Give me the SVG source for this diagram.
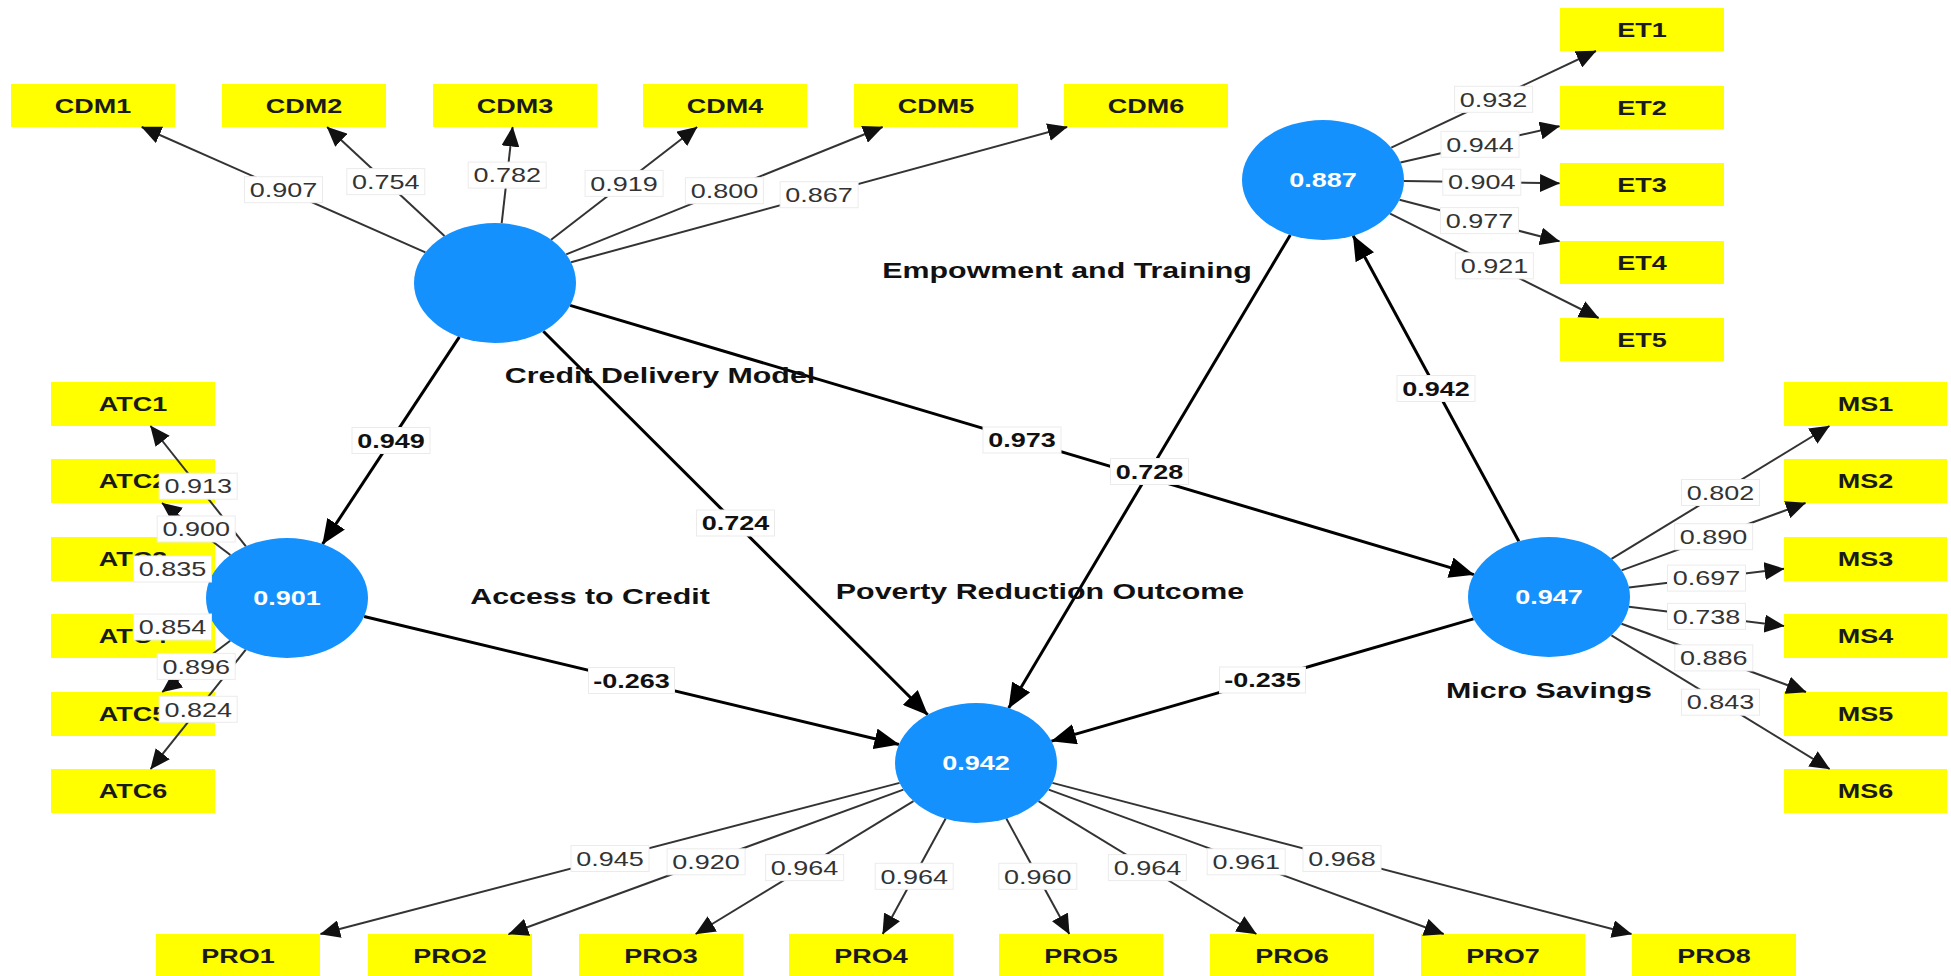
<svg xmlns="http://www.w3.org/2000/svg" width="1951" height="976" viewBox="0 0 1951 976">
<style>
.box{fill:#ffff00}
.lv{fill:#1591fe}
.ind{font-family:"Liberation Sans",Arial,sans-serif;font-weight:bold;font-size:20px;fill:#1a1a1a;text-anchor:middle}
.ld{font-family:"Liberation Sans",Arial,sans-serif;font-size:20px;fill:#333;text-anchor:middle}
.pc{font-family:"Liberation Sans",Arial,sans-serif;font-weight:bold;font-size:20px;fill:#111;text-anchor:middle}
.nm{font-family:"Liberation Sans",Arial,sans-serif;font-weight:bold;font-size:22.5px;fill:#111;text-anchor:middle}
.cv{font-family:"Liberation Sans",Arial,sans-serif;font-weight:bold;font-size:20px;fill:#fff;text-anchor:middle}
.lb{fill:#fff;stroke:#ebebeb;stroke-width:1}
.lo{stroke:#333;stroke-width:2;fill:none;marker-end:url(#a)}
.lh{stroke:#333;stroke-width:2;fill:none}
.st{stroke:#000;stroke-width:3;fill:none;marker-end:url(#b)}
</style>
<defs>
<marker id="a" markerUnits="userSpaceOnUse" viewBox="0 0 20 18" markerWidth="20" markerHeight="18" refX="19.5" refY="9" orient="auto"><path d="M0,0 L20,9 L0,18 z" fill="#111"/></marker>
<marker id="b" markerUnits="userSpaceOnUse" viewBox="0 0 25 21" markerWidth="25" markerHeight="21" refX="24.5" refY="10.5" orient="auto"><path d="M0,0 L25,10.5 L0,21 z" fill="#000"/></marker>
</defs>
<rect width="1951" height="976" fill="#fff"/>

<g id="indicators">
<g id="CDM1"><rect class="box" x="11" y="84" width="164" height="43"/><text class="ind" transform="translate(93,112.7) scale(1.35,1)">CDM1</text></g>
<g id="CDM2"><rect class="box" x="222" y="84" width="164" height="43"/><text class="ind" transform="translate(304,112.7) scale(1.35,1)">CDM2</text></g>
<g id="CDM3"><rect class="box" x="433" y="84" width="164" height="43"/><text class="ind" transform="translate(515,112.7) scale(1.35,1)">CDM3</text></g>
<g id="CDM4"><rect class="box" x="643" y="84" width="164" height="43"/><text class="ind" transform="translate(725,112.7) scale(1.35,1)">CDM4</text></g>
<g id="CDM5"><rect class="box" x="854" y="84" width="164" height="43"/><text class="ind" transform="translate(936,112.7) scale(1.35,1)">CDM5</text></g>
<g id="CDM6"><rect class="box" x="1064" y="84" width="164" height="43"/><text class="ind" transform="translate(1146,112.7) scale(1.35,1)">CDM6</text></g>

<g id="ET1"><rect class="box" x="1560" y="8" width="164" height="43"/><text class="ind" transform="translate(1642,36.7) scale(1.35,1)">ET1</text></g>
<g id="ET2"><rect class="box" x="1560" y="86" width="164" height="43"/><text class="ind" transform="translate(1642,114.7) scale(1.35,1)">ET2</text></g>
<g id="ET3"><rect class="box" x="1560" y="163" width="164" height="43"/><text class="ind" transform="translate(1642,191.7) scale(1.35,1)">ET3</text></g>
<g id="ET4"><rect class="box" x="1560" y="241" width="164" height="43"/><text class="ind" transform="translate(1642,269.7) scale(1.35,1)">ET4</text></g>
<g id="ET5"><rect class="box" x="1560" y="318" width="164" height="43"/><text class="ind" transform="translate(1642,346.7) scale(1.35,1)">ET5</text></g>

<g id="ATC1"><rect class="box" x="51" y="382" width="164" height="44"/><text class="ind" transform="translate(133,411) scale(1.35,1)">ATC1</text></g>
<g id="ATC2"><rect class="box" x="51" y="459" width="164" height="44"/><text class="ind" transform="translate(133,488) scale(1.35,1)">ATC2</text></g>
<g id="ATC3"><rect class="box" x="51" y="537" width="164" height="44"/><text class="ind" transform="translate(133,566) scale(1.35,1)">ATC3</text></g>
<g id="ATC4"><rect class="box" x="51" y="614" width="164" height="44"/><text class="ind" transform="translate(133,643) scale(1.35,1)">ATC4</text></g>
<g id="ATC5"><rect class="box" x="51" y="692" width="164" height="44"/><text class="ind" transform="translate(133,721) scale(1.35,1)">ATC5</text></g>
<g id="ATC6"><rect class="box" x="51" y="769" width="164" height="44"/><text class="ind" transform="translate(133,798) scale(1.35,1)">ATC6</text></g>

<g id="MS1"><rect class="box" x="1784" y="382" width="163" height="44"/><text class="ind" transform="translate(1865.5,411) scale(1.35,1)">MS1</text></g>
<g id="MS2"><rect class="box" x="1784" y="459" width="163" height="44"/><text class="ind" transform="translate(1865.5,488) scale(1.35,1)">MS2</text></g>
<g id="MS3"><rect class="box" x="1784" y="537" width="163" height="44"/><text class="ind" transform="translate(1865.5,566) scale(1.35,1)">MS3</text></g>
<g id="MS4"><rect class="box" x="1784" y="614" width="163" height="44"/><text class="ind" transform="translate(1865.5,643) scale(1.35,1)">MS4</text></g>
<g id="MS5"><rect class="box" x="1784" y="692" width="163" height="44"/><text class="ind" transform="translate(1865.5,721) scale(1.35,1)">MS5</text></g>
<g id="MS6"><rect class="box" x="1784" y="769" width="163" height="44"/><text class="ind" transform="translate(1865.5,798) scale(1.35,1)">MS6</text></g>

<g id="PRO1"><rect class="box" x="156" y="934" width="164" height="43"/><text class="ind" transform="translate(238,962.7) scale(1.35,1)">PRO1</text></g>
<g id="PRO2"><rect class="box" x="368" y="934" width="164" height="43"/><text class="ind" transform="translate(450,962.7) scale(1.35,1)">PRO2</text></g>
<g id="PRO3"><rect class="box" x="579" y="934" width="164" height="43"/><text class="ind" transform="translate(661,962.7) scale(1.35,1)">PRO3</text></g>
<g id="PRO4"><rect class="box" x="789" y="934" width="164" height="43"/><text class="ind" transform="translate(871,962.7) scale(1.35,1)">PRO4</text></g>
<g id="PRO5"><rect class="box" x="999" y="934" width="164" height="43"/><text class="ind" transform="translate(1081,962.7) scale(1.35,1)">PRO5</text></g>
<g id="PRO6"><rect class="box" x="1210" y="934" width="164" height="43"/><text class="ind" transform="translate(1292,962.7) scale(1.35,1)">PRO6</text></g>
<g id="PRO7"><rect class="box" x="1421" y="934" width="164" height="43"/><text class="ind" transform="translate(1503,962.7) scale(1.35,1)">PRO7</text></g>
<g id="PRO8"><rect class="box" x="1632" y="934" width="164" height="43"/><text class="ind" transform="translate(1714,962.7) scale(1.35,1)">PRO8</text></g>
</g>

<g id="connectors">
<line class="lo" x1="425.4" y1="252.3" x2="141.7" y2="127"/>
<line class="lo" x1="444.5" y1="236.1" x2="327.1" y2="127"/>
<line class="lo" x1="501.7" y1="223.2" x2="512.6" y2="127"/>
<line class="lo" x1="551.1" y1="239.7" x2="697.1" y2="127"/>
<line class="lo" x1="566.2" y1="254.4" x2="882.6" y2="127"/>
<line class="lo" x1="571" y1="262.3" x2="1067.2" y2="127"/>

<line class="lo" x1="245.9" y1="546.3" x2="150.5" y2="426"/>
<line class="lo" x1="230.4" y1="555" x2="162" y2="503"/>
<line class="lh" x1="245" y1="588" x2="215" y2="579.8"/>
<line class="lh" x1="245" y1="608" x2="215" y2="615.8"/>
<line class="lo" x1="230.2" y1="640.8" x2="162.2" y2="692"/>
<line class="lo" x1="245.8" y1="649.6" x2="150.6" y2="769"/>

<line class="lo" x1="1391.3" y1="147.7" x2="1596" y2="51"/>
<line class="lo" x1="1400.4" y1="162.4" x2="1559.5" y2="126.2"/>
<line class="lo" x1="1404" y1="181.1" x2="1559.5" y2="183.3"/>
<line class="lo" x1="1399.5" y1="199.8" x2="1559.5" y2="241.3"/>
<line class="lo" x1="1390.1" y1="213.6" x2="1598.6" y2="318"/>

<line class="lo" x1="1611.5" y1="558.9" x2="1829.4" y2="426"/>
<line class="lo" x1="1621.6" y1="570.4" x2="1805.5" y2="503"/>
<line class="lo" x1="1628.9" y1="587.4" x2="1784" y2="568.8"/>
<line class="lo" x1="1628.9" y1="606.8" x2="1784" y2="626"/>
<line class="lo" x1="1621.5" y1="623.8" x2="1806" y2="692"/>
<line class="lo" x1="1611.4" y1="635.3" x2="1829.6" y2="769"/>

<line class="lo" x1="899.6" y1="782.9" x2="320.5" y2="934"/>
<line class="lo" x1="903.4" y1="789.6" x2="508.8" y2="934"/>
<line class="lo" x1="913.5" y1="801.2" x2="695.7" y2="934"/>
<line class="lo" x1="945.7" y1="818.6" x2="882.7" y2="934"/>
<line class="lo" x1="1006.3" y1="818.6" x2="1069.3" y2="934"/>
<line class="lo" x1="1038.5" y1="801.2" x2="1256.3" y2="934"/>
<line class="lo" x1="1048.7" y1="789.6" x2="1443.7" y2="934"/>
<line class="lo" x1="1052.4" y1="782.9" x2="1631.5" y2="934"/>

<line class="st" x1="459.4" y1="336.9" x2="322.6" y2="544.1"/>
<line class="st" x1="543.3" y1="331.2" x2="927.7" y2="714.8"/>
<line class="st" x1="570.1" y1="305.4" x2="1473.9" y2="574.6"/>
<line class="st" x1="364.1" y1="616.5" x2="898.9" y2="744.5"/>
<line class="st" x1="1473.5" y1="618.9" x2="1051.5" y2="741.1"/>
<line class="st" x1="1290.3" y1="234.9" x2="1008.7" y2="708.1"/>
<line class="st" x1="1518.8" y1="541.3" x2="1353.2" y2="235.7"/>
</g>

<g id="CDM"><ellipse class="lv" cx="495" cy="283" rx="81" ry="60"/><text class="nm" transform="translate(660,383) scale(1.35,1)">Credit Delivery Model</text></g>
<g id="ATC"><ellipse class="lv" cx="287" cy="598" rx="81" ry="60"/><text class="cv" transform="translate(287,605.2) scale(1.35,1)">0.901</text><text class="nm" transform="translate(590,604) scale(1.35,1)">Access to Credit</text></g>
<g id="PRO"><ellipse class="lv" cx="976" cy="763" rx="81" ry="60"/><text class="cv" transform="translate(976,770.2) scale(1.35,1)">0.942</text><text class="nm" transform="translate(1040,599) scale(1.35,1)">Poverty Reduction Outcome</text></g>
<g id="MS"><ellipse class="lv" cx="1549" cy="597" rx="81" ry="60"/><text class="cv" transform="translate(1549,604.2) scale(1.35,1)">0.947</text><text class="nm" transform="translate(1549,698) scale(1.35,1)">Micro Savings</text></g>
<g id="ET"><ellipse class="lv" cx="1323" cy="180" rx="81" ry="60"/><text class="cv" transform="translate(1323,187.2) scale(1.35,1)">0.887</text><text class="nm" transform="translate(1067,278) scale(1.35,1)">Empowment and Training</text></g>

<g id="labels">
<rect class="lb" x="244.5" y="176.7" width="78" height="26"/><text class="ld" transform="translate(283.5,196.9) scale(1.35,1)">0.907</text>
<rect class="lb" x="346.8" y="168.6" width="78" height="26"/><text class="ld" transform="translate(385.8,188.8) scale(1.35,1)">0.754</text>
<rect class="lb" x="468.2" y="162.1" width="78" height="26"/><text class="ld" transform="translate(507.2,182.3) scale(1.35,1)">0.782</text>
<rect class="lb" x="585.1" y="170.4" width="78" height="26"/><text class="ld" transform="translate(624.1,190.6) scale(1.35,1)">0.919</text>
<rect class="lb" x="685.4" y="177.7" width="78" height="26"/><text class="ld" transform="translate(724.4,197.9) scale(1.35,1)">0.800</text>
<rect class="lb" x="780.1" y="181.7" width="78" height="26"/><text class="ld" transform="translate(819.1,201.9) scale(1.35,1)">0.867</text>

<rect class="lb" x="159.2" y="473.2" width="78" height="26"/><text class="ld" transform="translate(198.2,493.4) scale(1.35,1)">0.913</text>
<rect class="lb" x="157.2" y="516" width="78" height="26"/><text class="ld" transform="translate(196.2,536.2) scale(1.35,1)">0.900</text>
<rect class="lb" x="133.5" y="556" width="78" height="26"/><text class="ld" transform="translate(172.5,576.2) scale(1.35,1)">0.835</text>
<rect class="lb" x="133.5" y="614" width="78" height="26"/><text class="ld" transform="translate(172.5,634.2) scale(1.35,1)">0.854</text>
<rect class="lb" x="157.2" y="653.4" width="78" height="26"/><text class="ld" transform="translate(196.2,673.6) scale(1.35,1)">0.896</text>
<rect class="lb" x="159.2" y="696.3" width="78" height="26"/><text class="ld" transform="translate(198.2,716.5) scale(1.35,1)">0.824</text>

<rect class="lb" x="1454.6" y="86.3" width="78" height="26"/><text class="ld" transform="translate(1493.6,106.5) scale(1.35,1)">0.932</text>
<rect class="lb" x="1441" y="131.3" width="78" height="26"/><text class="ld" transform="translate(1480,151.5) scale(1.35,1)">0.944</text>
<rect class="lb" x="1442.8" y="169.2" width="78" height="26"/><text class="ld" transform="translate(1481.8,189.4) scale(1.35,1)">0.904</text>
<rect class="lb" x="1440.5" y="207.6" width="78" height="26"/><text class="ld" transform="translate(1479.5,227.8) scale(1.35,1)">0.977</text>
<rect class="lb" x="1455.4" y="252.8" width="78" height="26"/><text class="ld" transform="translate(1494.4,273) scale(1.35,1)">0.921</text>

<rect class="lb" x="1681.5" y="479.5" width="78" height="26"/><text class="ld" transform="translate(1720.5,499.7) scale(1.35,1)">0.802</text>
<rect class="lb" x="1674.6" y="523.7" width="78" height="26"/><text class="ld" transform="translate(1713.6,543.9) scale(1.35,1)">0.890</text>
<rect class="lb" x="1667.5" y="565.1" width="78" height="26"/><text class="ld" transform="translate(1706.5,585.3) scale(1.35,1)">0.697</text>
<rect class="lb" x="1667.5" y="603.4" width="78" height="26"/><text class="ld" transform="translate(1706.5,623.6) scale(1.35,1)">0.738</text>
<rect class="lb" x="1674.8" y="644.9" width="78" height="26"/><text class="ld" transform="translate(1713.8,665.1) scale(1.35,1)">0.886</text>
<rect class="lb" x="1681.5" y="689.2" width="78" height="26"/><text class="ld" transform="translate(1720.5,709.4) scale(1.35,1)">0.843</text>

<rect class="lb" x="571" y="845.5" width="78" height="26"/><text class="ld" transform="translate(610,865.7) scale(1.35,1)">0.945</text>
<rect class="lb" x="667.1" y="848.8" width="78" height="26"/><text class="ld" transform="translate(706.1,869) scale(1.35,1)">0.920</text>
<rect class="lb" x="765.6" y="854.6" width="78" height="26"/><text class="ld" transform="translate(804.6,874.8) scale(1.35,1)">0.964</text>
<rect class="lb" x="875.2" y="863.3" width="78" height="26"/><text class="ld" transform="translate(914.2,883.5) scale(1.35,1)">0.964</text>
<rect class="lb" x="998.8" y="863.3" width="78" height="26"/><text class="ld" transform="translate(1037.8,883.5) scale(1.35,1)">0.960</text>
<rect class="lb" x="1108.4" y="854.6" width="78" height="26"/><text class="ld" transform="translate(1147.4,874.8) scale(1.35,1)">0.964</text>
<rect class="lb" x="1207.2" y="848.8" width="78" height="26"/><text class="ld" transform="translate(1246.2,869) scale(1.35,1)">0.961</text>
<rect class="lb" x="1303" y="845.5" width="78" height="26"/><text class="ld" transform="translate(1342,865.7) scale(1.35,1)">0.968</text>

<rect class="lb" x="352" y="427.5" width="78" height="26"/><text class="pc" transform="translate(391,447.7) scale(1.35,1)">0.949</text>
<rect class="lb" x="696.5" y="510" width="78" height="26"/><text class="pc" transform="translate(735.5,530.2) scale(1.35,1)">0.724</text>
<rect class="lb" x="983" y="427" width="78" height="26"/><text class="pc" transform="translate(1022,447.2) scale(1.35,1)">0.973</text>
<rect class="lb" x="588.5" y="667.5" width="86" height="26"/><text class="pc" transform="translate(631.5,687.7) scale(1.35,1)">-0.263</text>
<rect class="lb" x="1219.5" y="667" width="86" height="26"/><text class="pc" transform="translate(1262.5,687.2) scale(1.35,1)">-0.235</text>
<rect class="lb" x="1110.5" y="458.5" width="78" height="26"/><text class="pc" transform="translate(1149.5,478.7) scale(1.35,1)">0.728</text>
<rect class="lb" x="1397" y="375.5" width="78" height="26"/><text class="pc" transform="translate(1436,395.7) scale(1.35,1)">0.942</text>
</g>
</svg>
